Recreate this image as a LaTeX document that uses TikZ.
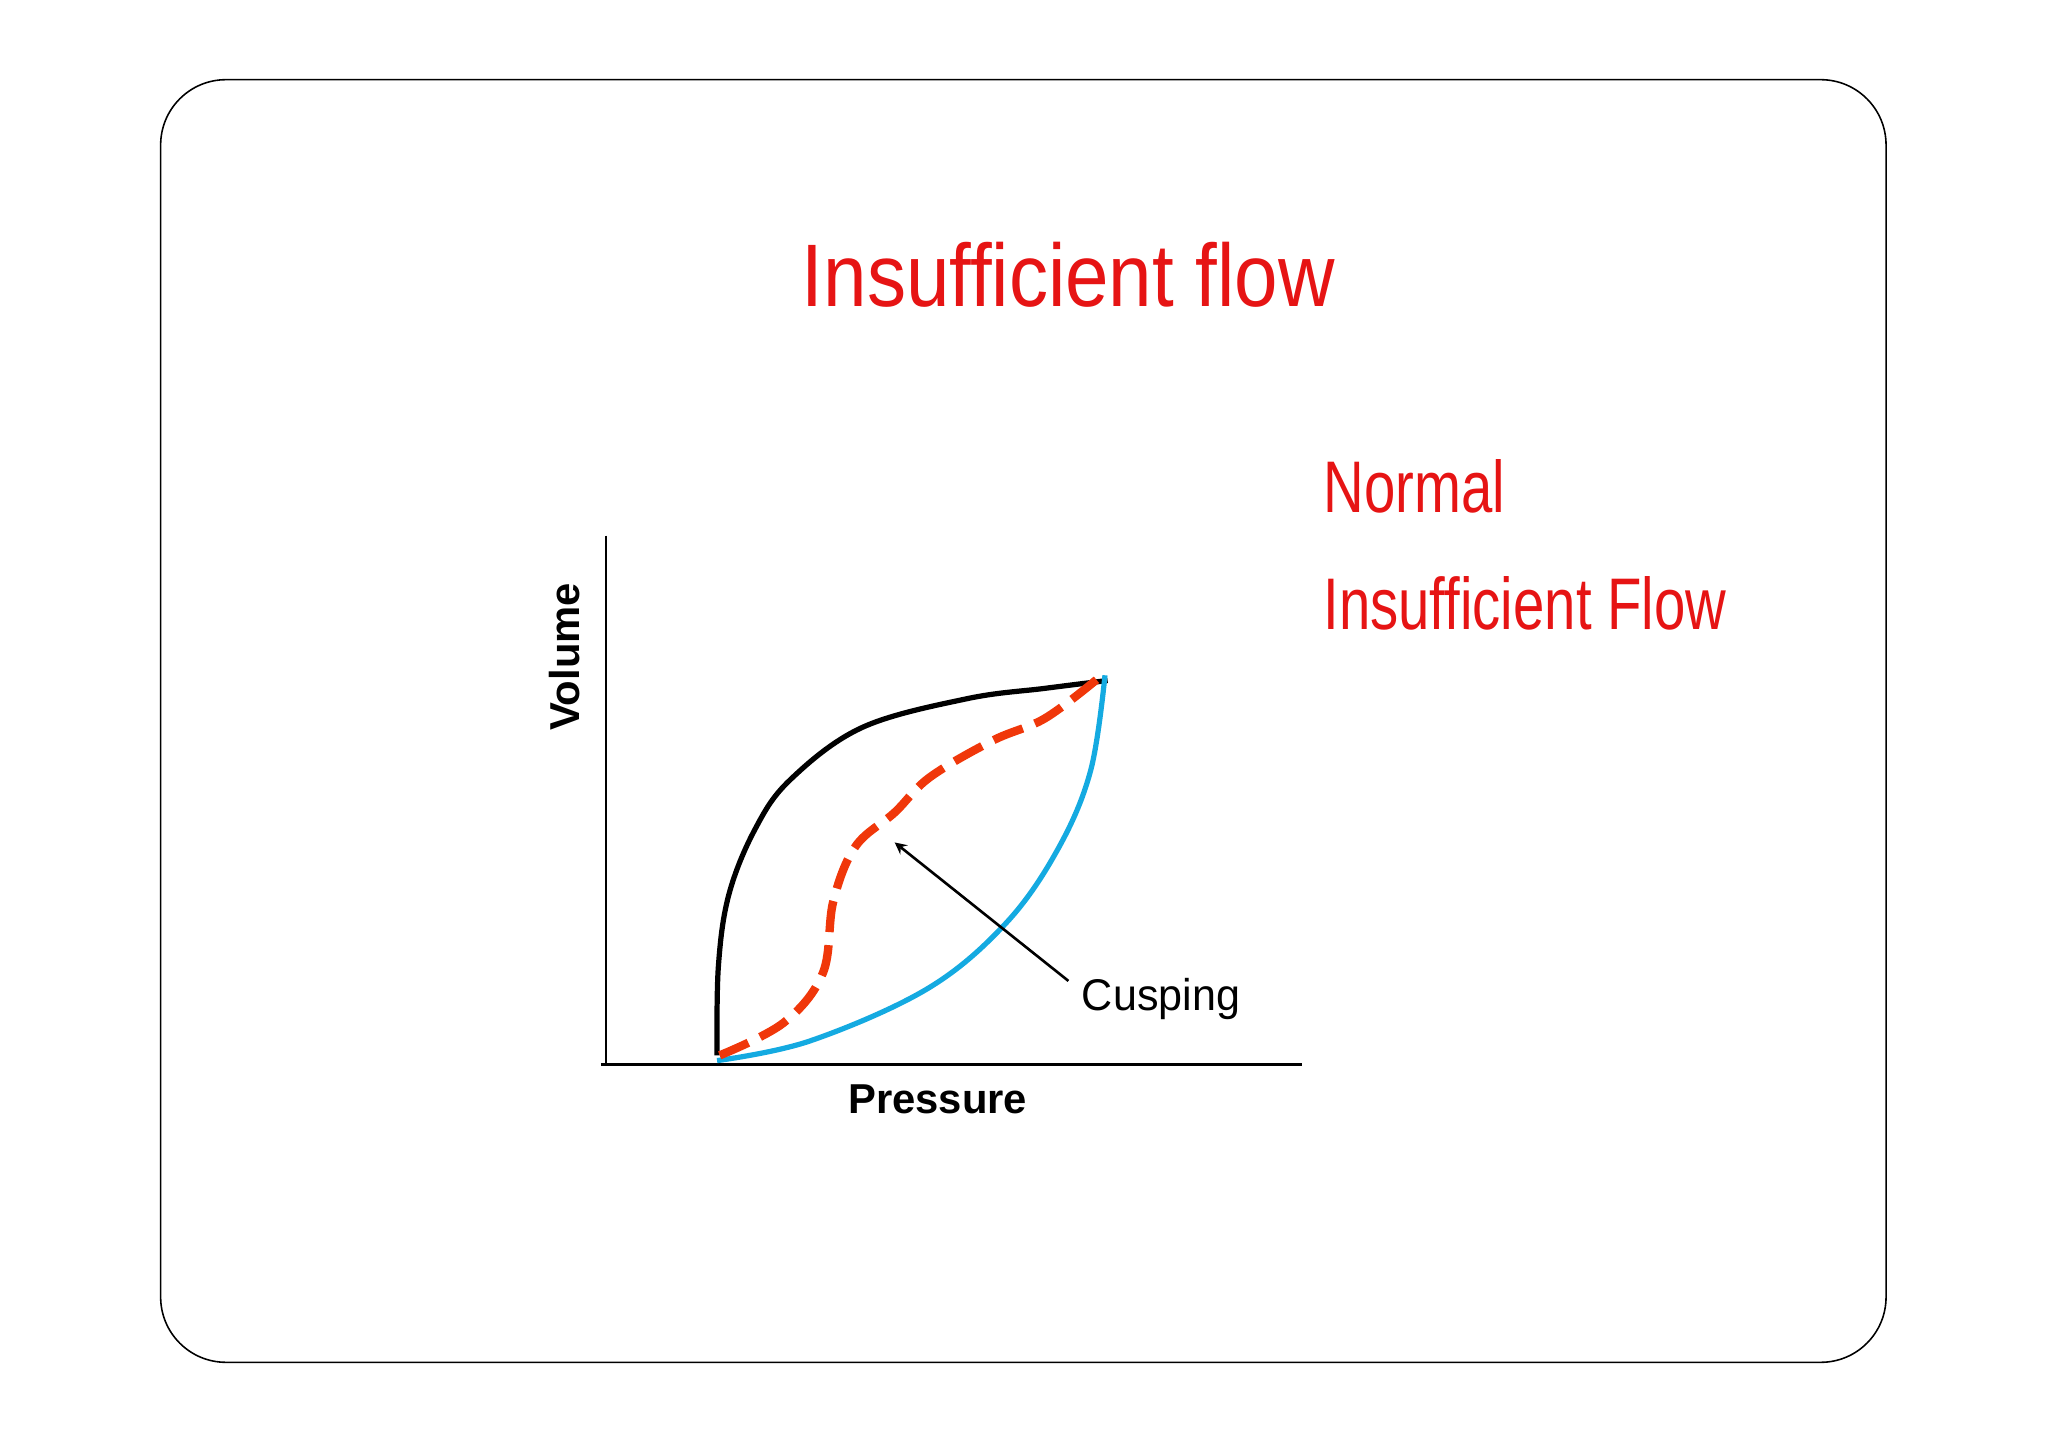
\documentclass[tikz,border=0pt]{standalone}
\usepackage{fontspec}
\setmainfont{Liberation Sans}
\definecolor{redtxt}{RGB}{230,20,20}
\definecolor{bluec}{RGB}{20,170,225}
\definecolor{redc}{RGB}{240,55,10}
\begin{document}
\begin{tikzpicture}[x=0.5pt,y=-0.5pt,
  lbl/.style={inner sep=0pt,font=\bfseries\fontsize{16}{18}\selectfont},
  redlbl/.style={inner sep=0pt,anchor=west,text=redtxt,xscale=0.77,font=\fontsize{28}{32}\selectfont}]
\useasboundingbox (0,0) rectangle (1568,1109);
\draw[rounded corners=25pt,line width=0.6pt] (123,61) rectangle (1444,1043);
\node[inner sep=0pt,text=redtxt,xscale=0.88,font=\fontsize{34}{40}\selectfont] (title) at (818,210) {Insufficient flow};
\node[redlbl] (normal) at (1013,372) {Normal};
\node[redlbl] (insuf) at (1013,462) {Insufficient Flow};
\coordinate (ytop) at (464,410);
\coordinate (orig) at (464,815);
\coordinate (xl) at (460,815);
\coordinate (xr) at (997,815);
\draw[line width=0.8pt] (ytop) -- (orig);
\draw[line width=0.8pt] (xl) -- (xr);
\node[lbl,rotate=90] (vol) at (432,503) {Volume};
\node[lbl] (pres) at (718,842) {Pressure};
\draw[line width=2pt] plot[smooth,tension=0.6] coordinates {(549,808) (550,740) (558,685) (578,635) (605,597) (660,557) (740,535) (800,527) (848,521)};
\draw[bluec,line width=2pt] plot[smooth,tension=0.6] coordinates {(549,812) (620,797) (710,757) (770,707) (810,650) (835,590) (846,517)};
\draw[redc,line width=3.2pt,dash pattern=on 12pt off 5pt] plot[smooth,tension=0.6] coordinates {(551,808) (600,783) (630,745) (638,690) (655,648) (685,622) (712,595) (760,567) (800,550) (840,520)};
\node[inner sep=0pt,anchor=west,xscale=0.97,font=\fontsize{17}{20}\selectfont] (cusp) at (828,765) {Cusping};
\coordinate (ahead) at (685,645);
\draw[-stealth,line width=1pt] (818,751) -- (ahead);
\end{tikzpicture}
\end{document}
